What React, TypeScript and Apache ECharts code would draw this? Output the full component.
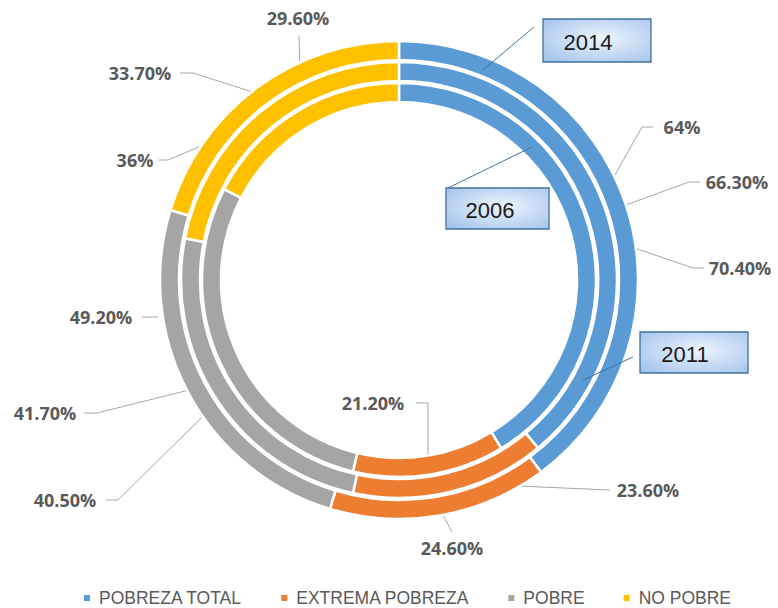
import React, { useEffect, useRef } from 'react';
import * as echarts from 'echarts';

// ---- data ----
const categories = ['POBREZA TOTAL', 'EXTREMA POBREZA', 'POBRE', 'NO POBRE'];
const years = ['2006', '2011', '2014'];
const values2006 = [70.4, 21.2, 49.2, 29.6];
const values2011 = [64, 23.6, 40.5, 36];
const values2014 = [66.3, 24.6, 41.7, 33.7];
const seriesValues = [values2006, values2011, values2014];

// ---- style / layout ----
const colors = ['#5b9bd5', '#ed7d31', '#a5a5a5', '#ffc000'];
const CX = 399;
const CY = 280;
const RADII = [
  [178, 197],
  [199, 218],
  [220, 239],
];
const PULL = 9;

type Spot = { x: number; y: number; pts: number[][]; noAnchor?: boolean };
// label spots per ring (inner 2006, middle 2011, outer 2014), per category
const SPOTS: Spot[][] = [
  [
    { x: 740, y: 268, pts: [[693, 268], [704, 268]] },
    { x: 373, y: 403, pts: [[428, 403], [416, 403]] },
    { x: 101, y: 317, pts: [[158, 317], [142, 317]], noAnchor: true },
    { x: 298, y: 18, pts: [[299, 36]] },
  ],
  [
    { x: 682, y: 127, pts: [[642, 127], [653, 127]] },
    { x: 648, y: 490, pts: [[610, 490]] },
    { x: 65, y: 500, pts: [[118, 500], [106, 500]] },
    { x: 135, y: 160, pts: [[168, 160], [159, 160]] },
  ],
  [
    { x: 737, y: 182, pts: [[689, 182], [700, 182]] },
    { x: 452, y: 548, pts: [[452, 532]] },
    { x: 45, y: 413, pts: [[97, 413], [84, 413]] },
    { x: 140, y: 73, pts: [[193, 73], [180, 73]] },
  ],
];

const BOXES: Record<string, { rect: number[]; text: number[]; line: number[] }> = {
  '2014': { rect: [543, 19, 108, 43], text: [588, 42], line: [483, 70, 534, 27] },
  '2006': { rect: [446, 188, 103, 41], text: [490, 210], line: [532, 147, 448, 188] },
  '2011': { rect: [640, 332, 108, 41], text: [685, 354], line: [583, 380, 633, 357] },
};

function fmt(v: number): string {
  return Number.isInteger(v) ? `${v}%` : `${v.toFixed(2)}%`;
}

function makeLayout(ring: number) {
  return (params: any) => {
    const spot = SPOTS[ring][params.dataIndex];
    if (!spot) return {};
    const pts: number[][] = [];
    if (!spot.noAnchor) {
      const p0 = params.labelLinePoints && params.labelLinePoints[0];
      if (p0) {
        const dx = p0[0] - CX;
        const dy = p0[1] - CY;
        const len = Math.sqrt(dx * dx + dy * dy) || 1;
        pts.push([p0[0] - (dx / len) * PULL, p0[1] - (dy / len) * PULL]);
      }
    }
    spot.pts.forEach((p) => pts.push(p));
    while (pts.length < 2) pts.push(pts[0]);
    return {
      x: spot.x,
      y: spot.y,
      align: 'center',
      verticalAlign: 'middle',
      labelLinePoints: pts,
    };
  };
}

export default function App() {
  const ref = useRef<HTMLDivElement>(null);
  useEffect(() => {
    if (!ref.current) return;
    const chart = echarts.init(ref.current, null, { renderer: 'svg' });
    const series = seriesValues.map((vals, ring) => ({
      type: 'pie',
      name: years[ring],
      center: [CX, CY],
      radius: RADII[ring],
      startAngle: 90,
      clockwise: true,
      avoidLabelOverlap: false,
      silent: true,
      itemStyle: { borderColor: '#ffffff', borderWidth: 2.5 },
      label: {
        show: true,
        position: 'outside',
        formatter: (p: any) => fmt(p.value),
        fontFamily: 'Open Sans',
        fontWeight: 'bold',
        fontSize: 18,
        color: '#595959',
      },
      labelLine: {
        show: true,
        length: 10,
        length2: 10,
        lineStyle: { color: '#a6a6a6', width: 1 },
      },
      labelLayout: makeLayout(ring),
      emphasis: { disabled: true },
      data: categories.map((c, i) => ({ name: c, value: vals[i] })),
    }));

    const graphic: any[] = years.map((y) => {
      const b = BOXES[y];
      return {
        type: 'group',
        children: [
          {
            type: 'line',
            shape: { x1: b.line[0], y1: b.line[1], x2: b.line[2], y2: b.line[3] },
            style: { stroke: '#41719c', lineWidth: 1 },
            z: 10,
          },
          {
            type: 'rect',
            shape: { x: b.rect[0], y: b.rect[1], width: b.rect[2], height: b.rect[3] },
            style: {
              fill: new echarts.graphic.RadialGradient(0.55, 0.45, 0.75, [
                { offset: 0, color: '#eef4fc' },
                { offset: 1, color: '#9fc1ec' },
              ]),
              stroke: '#41719c',
              lineWidth: 1.3,
            },
            z: 10,
          },
          {
            type: 'text',
            x: b.text[0],
            y: b.text[1],
            style: {
              text: y,
              align: 'center',
              verticalAlign: 'middle',
              fontFamily: 'Liberation Sans',
              fontSize: 22,
              fill: '#1a1a1a',
            },
            z: 11,
          },
        ],
      };
    });

    chart.setOption({
      animation: false,
      color: colors,
      legend: {
        data: categories,
        left: 77,
        top: 584,
        icon: 'rect',
        itemWidth: 8,
        itemHeight: 8,
        itemGap: 37,
        selectedMode: false,
        textStyle: {
          fontFamily: 'Liberation Sans',
          fontSize: 17.5,
          color: '#595959',
          padding: [0, 0, 0, 3],
        },
      },
      series,
      graphic,
    });
    return () => chart.dispose();
  }, []);
  return (
    <div
      ref={ref}
      style={{ position: 'fixed', left: 0, top: 0, width: 778, height: 608, background: '#fff' }}
    />
  );
}
